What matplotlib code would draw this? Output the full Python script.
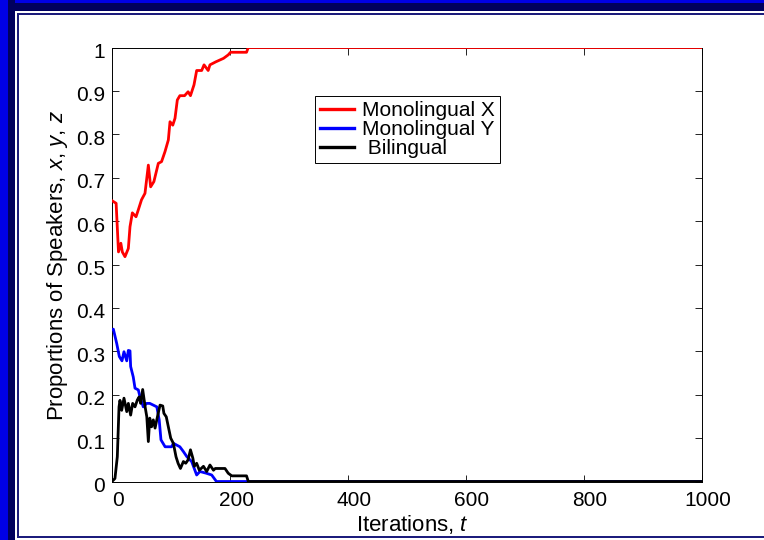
import matplotlib
matplotlib.use("Agg")
import matplotlib.pyplot as plt
from matplotlib.patches import Rectangle
from matplotlib.transforms import ScaledTranslation

plt.rcParams["font.family"] = ["Liberation Sans", "DejaVu Sans"]
plt.rcParams["mathtext.fontset"] = "custom"
plt.rcParams["mathtext.rm"] = "Liberation Sans"
plt.rcParams["mathtext.it"] = "Liberation Sans:italic"

# Monolingual X speakers
t_x = [0, 7, 11, 15, 17.5, 22, 27.7, 30.5, 34.5, 40.7, 44.6, 50, 55.9, 61.6, 65.5,
       71, 78.5, 84, 89.8, 95.5, 98.3, 103, 106.8, 110.7, 115, 123, 129, 133, 139,
       143.5, 152, 156, 163, 166, 176, 189, 197, 201, 228, 231, 1000]
x_vals = [0.647, 0.641, 0.529, 0.549, 0.529, 0.518, 0.537, 0.587, 0.619, 0.61, 0.626,
          0.649, 0.664, 0.729, 0.679, 0.691, 0.733, 0.737, 0.76, 0.787, 0.829, 0.821,
          0.837, 0.879, 0.889, 0.889, 0.898, 0.889, 0.914, 0.947, 0.947, 0.96, 0.947,
          0.96, 0.967, 0.975, 0.983, 0.989, 0.989, 1.0, 1.0]

# Monolingual Y speakers
t_y = [0, 2.3, 8, 12.4, 16.9, 20.3, 25, 27.7, 30.5, 31.6, 36, 39, 44.6, 47.5, 53,
       58.7, 64, 76, 80, 83, 90, 101, 104, 115, 121, 127, 135, 143.5, 149, 160, 169,
       177, 1000]
y_vals = [0.35, 0.351, 0.318, 0.288, 0.278, 0.299, 0.278, 0.302, 0.301, 0.265, 0.241,
          0.215, 0.211, 0.195, 0.172, 0.18, 0.18, 0.172, 0.142, 0.096, 0.08, 0.08,
          0.088, 0.08, 0.069, 0.057, 0.046, 0.015, 0.023, 0.019, 0.015, 0.0, 0.0]

# Bilingual speakers
t_z = [0, 5, 9, 11.9, 13.5, 16.4, 20.3, 25, 27.7, 31.6, 35, 39, 43, 46, 48.6, 52,
       56.5, 59, 61.6, 64, 67, 70, 73, 77, 81.4, 86, 88, 92, 95.5, 99.5, 104, 108.5,
       112, 116, 121, 125, 129, 133, 137, 139.5, 143.5, 148, 155, 160.5, 166, 172,
       175, 191.5, 197, 203, 228, 231, 1000]
z_vals = [0.0, 0.007, 0.057, 0.172, 0.187, 0.164, 0.192, 0.161, 0.18, 0.153, 0.18,
          0.172, 0.188, 0.195, 0.18, 0.212, 0.169, 0.149, 0.092, 0.146, 0.126, 0.142,
          0.123, 0.149, 0.176, 0.174, 0.157, 0.149, 0.126, 0.1, 0.088, 0.057, 0.042,
          0.03, 0.046, 0.042, 0.05, 0.073, 0.054, 0.035, 0.042, 0.026, 0.035, 0.023,
          0.038, 0.026, 0.03, 0.03, 0.019, 0.013, 0.013, 0.0, 0.0]

series_labels = ["Monolingual X", "Monolingual Y", " Bilingual"]
x_ticks = [0, 200, 400, 600, 800, 1000]
y_ticks = [0, 0.1, 0.2, 0.3, 0.4, 0.5, 0.6, 0.7, 0.8, 0.9, 1]
y_tick_labels = ["0", "0.1", "0.2", "0.3", "0.4", "0.5", "0.6", "0.7", "0.8", "0.9", "1"]

W, H = 764, 540
fig = plt.figure(figsize=(W / 100, H / 100), dpi=100)
fig.patch.set_facecolor("white")


def px_rect(x0, y0, w, h, color):
    """Rectangle given in pixel units measured from the top-left corner."""
    fig.add_artist(Rectangle((x0 / W, 1 - (y0 + h) / H), w / W, h / H,
                             transform=fig.transFigure, facecolor=color,
                             edgecolor="none", zorder=0))


bright = "#0000e6"
navy = "#00005e"
line_navy = "#1c1c7c"
# outer bands
px_rect(0, 0, W, 11, navy)
px_rect(0, 0, W, 3.3, bright)
px_rect(0, 0, 15, H, navy)
px_rect(0, 0, 8.3, H, bright)
# inner thin frame lines
px_rect(16.7, 12.7, W - 16.7, 2.3, line_navy)
px_rect(16.7, 12.7, 2.3, H - 12.7 - 2, line_navy)
px_rect(16.7, 536, W - 16.7, 2.2, line_navy)

ax_left, ax_right, ax_top, ax_bottom = 112, 702, 47.5, 481.5
ax = fig.add_axes([ax_left / W, 1 - ax_bottom / H,
                   (ax_right - ax_left) / W, (ax_bottom - ax_top) / H])
ax.set_facecolor("white")

ax.plot(t_x, x_vals, color="#ff0000", lw=2.0, label=series_labels[0], zorder=3)
ax.plot(t_y, y_vals, color="#0000ff", lw=2.0, label=series_labels[1], zorder=3)
ax.plot(t_z, z_vals, color="black", lw=2.0, label=series_labels[2], zorder=3)

ax.set_xlim(0, 1000)
ax.set_ylim(0, 1)
ax.set_xticks(x_ticks)
ax.set_yticks(y_ticks)
ax.set_yticklabels(y_tick_labels)
ax.tick_params(direction="in", length=5, width=0.6, labelsize=15,
               top=True, right=True, colors="black")
ax.tick_params(axis="x", pad=7)
ax.tick_params(axis="y", pad=5)
for sp in ax.spines.values():
    sp.set_linewidth(0.7)
    sp.set_color("black")

for lab in ax.get_xticklabels():
    lab.set_transform(lab.get_transform() + ScaledTranslation(6 / 100, 0, fig.dpi_scale_trans))
for lab in ax.get_yticklabels():
    lab.set_transform(lab.get_transform() + ScaledTranslation(0, -3 / 100, fig.dpi_scale_trans))

fig.text(412 / W, 1 - 524 / H, r"Iterations, $t$", fontsize=16,
         ha="center", va="center")
fig.text(57 / W, 1 - 266 / H, r"Proportions of Speakers, $x$, $y$, $z$", fontsize=16,
         ha="center", va="center", rotation=90)

leg = ax.legend(loc="upper left",
                bbox_to_anchor=(315 / W, 1 - 96 / H), bbox_transform=fig.transFigure,
                fontsize=15, frameon=True, fancybox=False, framealpha=1,
                edgecolor="black", borderpad=0.25, labelspacing=0.0,
                handlelength=1.6, handletextpad=0.4, borderaxespad=0)
leg.get_frame().set_linewidth(0.7)
for line in leg.get_lines():
    line.set_linewidth(2.4)

fig.savefig("out.png", dpi=100)
